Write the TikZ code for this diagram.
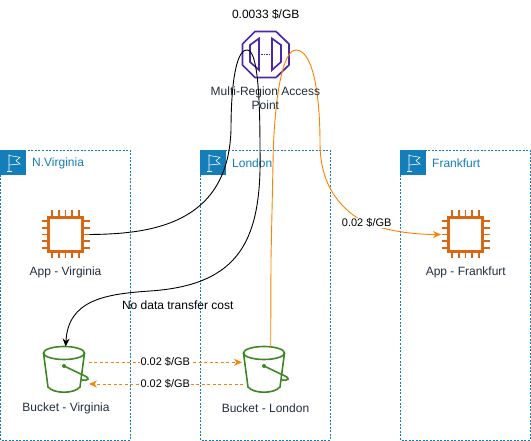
\documentclass[tikz,border=0pt]{standalone}
\usepackage{fontspec}
\setmainfont{Liberation Sans}
\usetikzlibrary{arrows.meta}
\definecolor{regionblue}{HTML}{147EBA}
\definecolor{chip}{HTML}{D86613}
\definecolor{bucketg}{HTML}{3F8624}
\definecolor{mrap}{HTML}{4D27AA}
\definecolor{flow}{HTML}{FF8000}
\definecolor{lbl}{HTML}{232F3E}
\tikzset{x=1pt,y=-1pt,
 region/.style={draw=regionblue,line width=.9pt,dash pattern=on 2pt off 1.5pt},
 regionflag/.style={fill=regionblue,draw=none},
 regiontext/.style={text=regionblue,font=\fontsize{12}{14}\selectfont,anchor=west,inner sep=0pt},
 iconlabel/.style={text=lbl,font=\fontsize{12}{14}\selectfont,align=center,inner sep=0pt},
 price/.style={text=black,font=\fontsize{11}{13}\selectfont,fill=white,inner sep=0.5pt},
 plaintext/.style={text=black,font=\fontsize{12}{14}\selectfont,inner sep=0pt},
 flowline/.style={draw=flow,line width=.9pt},
 flowdash/.style={draw=flow,line width=.9pt,dash pattern=on 3pt off 2.5pt},
 tip/.style={-{Stealth[length=8pt,width=7pt]}},
 blackline/.style={draw=black,line width=.9pt},
}
\newcommand{\regionbox}[4]{%
 \draw[region] (#1+.5,150.5) rectangle (#2,440);
 \fill[regionflag] (#1,150) rectangle ++(25.5,25.5);
 \draw[white,line width=.6pt] (#1+9,171.5) -- (#1+9,154.5) (#1+7,171.5) -- (#1+12,171.5) (#1+9,155.5) -- (#1+20,157.3) -- (#1+16,160.7) -- (#1+20,164) -- (#1+9,165);
 \node[regiontext] (#3) at (#1+32,163.3) {#4};
}
\newcommand{\chipicon}[3]{%
 \coordinate (#1) at (#2,#3);
 \draw[chip,line width=2.2pt] (#2-17,#3-17) rectangle (#2+17,#3+17);
 \foreach \d in {-13.3,-6.7,0,6.7,13.3}{
  \draw[chip,line width=1.9pt] (#2+\d,#3-24) -- (#2+\d,#3-18);
  \draw[chip,line width=1.9pt] (#2+\d,#3+18) -- (#2+\d,#3+24);
  \draw[chip,line width=1.9pt] (#2-24,#3+\d) -- (#2-18,#3+\d);
  \draw[chip,line width=1.9pt] (#2+18,#3+\d) -- (#2+24,#3+\d);
 }
}
\newcommand{\bucketicon}[3]{%
 \coordinate (#1) at (#2,#3);
 \draw[bucketg,line width=1.6pt] (#2,#3-17) ellipse (20.5pt and 6.5pt);
 \draw[bucketg,line width=1.6pt] (#2-20.5,#3-17) -- (#2-16,#3+17) .. controls (#2-10,#3+24) and (#2+10,#3+24) .. (#2+16,#3+17) -- (#2+20.5,#3-17);
 \draw[bucketg,line width=1.6pt] (#2,#3-4) -- (#2+21,#3+6) .. controls (#2+26,#3+8) and (#2+25,#3+11) .. (#2+18,#3+10);
 \fill[bucketg] (#2,#3-4) circle (2pt);
}
\begin{document}
\begin{tikzpicture}
\useasboundingbox (0,0) rectangle (531,441);
\fill[white] (0,0) rectangle (531,441);
\regionbox{0}{130}{rva}{N.Virginia}
\regionbox{200}{330}{rld}{London}
\regionbox{400}{530}{rfr}{Frankfurt}
% MRAP
\draw[mrap,line width=1.7pt] (255,31.5) -- (276,31.5) -- (289,44) -- (289,65) -- (276,77.5) -- (255,77.5) -- (242.5,65) -- (242.5,44) -- cycle;
\draw[mrap,line width=1.7pt] (259,38.5) -- (250,45) -- (250,62) -- (259,70) -- cycle;
\draw[mrap,line width=1.7pt] (272,38.5) -- (281,45) -- (281,62) -- (272,70) -- cycle;
\draw[mrap,line width=1pt,dash pattern=on 1.5pt off 1pt] (261,54.3) -- (270,54.3);
% chips
\chipicon{appva}{65.5}{234.5}
\chipicon{appfr}{465.5}{234.5}
\node[iconlabel] (lappva) at (65.5,272) {App - Virginia};
\node[iconlabel] (lappfr) at (465.8,272) {App - Frankfurt};
% buckets
\bucketicon{bva}{64}{370}
\bucketicon{bld}{264}{370}
\node[iconlabel] (lbva) at (66,408) {Bucket - Virginia};
\node[iconlabel] (lbld) at (265.5,408) {Bucket - London};
% connectors
\coordinate (vaout) at (89.5,234.5);
\coordinate (frin) at (441,234.5);
\coordinate (bvatop) at (65.7,346.5);
\coordinate (bldtop) at (270.7,347);
\coordinate (mrl) at (247,50);
\coordinate (mrr) at (296,50);
\draw[blackline] (vaout) .. controls (150,234) and (228,225) .. (231,130) .. controls (231,90) and (235,50) .. (mrl);
\draw[blackline,tip] (mrl) .. controls (257,50) and (260,90) .. (260,150) .. controls (262,240) and (240,285) .. (150,291) .. controls (105,294) and (68,300) .. (bvatop);
\draw[flowline] (bldtop) -- (271,259) -- (273.3,150) .. controls (275,100) and (282,50) .. (mrr);
\draw[flowline,tip] (mrr) .. controls (312,50) and (320,90) .. (320,143) .. controls (320,190) and (345,212) .. (366,223) .. controls (385,230) and (410,234.5) .. (frin);
\node[plaintext] (p1) at (265.7,14.3) {0.0033 \$/GB};
\node[iconlabel] (lmrap) at (265.4,98.5) {Multi-Region Access\\Point};
\node[price] (p2) at (366.7,222.7) {0.02 \$/GB};
\node[plaintext] (nc) at (177.7,305) {No data transfer cost};
\draw[flowdash,tip] (88.5,362.3) -- (242,362.3);
\draw[flowdash,tip] (243,384) -- (89,384);
\node[price] (p3) at (165.3,362.3) {0.02 \$/GB};
\node[price] (p4) at (165.3,384) {0.02 \$/GB};
\end{tikzpicture}
\end{document}
